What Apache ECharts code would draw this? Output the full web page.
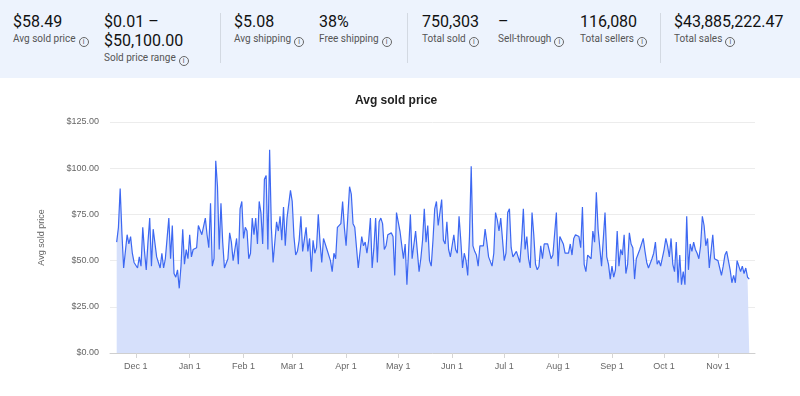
<!DOCTYPE html>
<html>
<head>
<meta charset="utf-8">
<script src="https://cdn.jsdelivr.net/npm/echarts@6/dist/echarts.min.js"></script>
<style>
  html, body { margin: 0; padding: 0; background: #fff; }
  #main { position: absolute; left: 0; top: 0; width: 800px; height: 396px; }
  #hdr { position: absolute; left: 0; top: 0; width: 800px; height: 78px; background: #edf3fd; z-index: 2;
         font-family: Roboto, "Liberation Sans", sans-serif; }
  .stat { position: absolute; top: 12px; white-space: nowrap; }
  .val { font-size: 16px; line-height: 19px; color: #111; }
  .lbl { font-size: 10px; line-height: 14px; color: #555; margin-top: 1px; }
  .ic { display: inline-block; width: 8px; height: 8px; border: 1px solid #666; border-radius: 50%;
        font-size: 7px; line-height: 8px; text-align: center; color: #555; margin-left: 3px; vertical-align: -2px; }
  .sep { position: absolute; top: 13px; width: 1px; height: 50px; background: #d3d9e2; }
</style>
</head>
<body>
<div id="main"></div>
<div id="hdr"></div>
<script>
// header stats
var statX = [13, 104, 234, 319, 422, 498, 580, 674];
var statValues = [['$58.49'], ['$0.01 \u2013', '$50,100.00'], ['$5.08'], ['38%'], ['750,303'], ['\u2013'], ['116,080'], ['$43,885,222.47']];
var statLabels = ['Avg sold price', 'Sold price range', 'Avg shipping', 'Free shipping', 'Total sold', 'Sell-through', 'Total sellers', 'Total sales'];
var sepX = [220, 407, 660];

// chart data: daily avg sold price from Nov 20, 2022
var startDay = [2022, 10, 20];
var avgSoldPrice = [
  60, 68, 89, 65, 46, 55, 64, 59, 63, 54,
  49, 48, 46, 52, 47, 68, 55, 45, 60, 73,
  47, 67, 68, 52, 52, 46, 54, 46, 51, 62,
  73, 51, 69, 43, 41, 45, 35, 47, 67, 48,
  56, 51, 64, 52, 56, 57, 57, 69, 68, 64,
  64, 73, 64, 57, 81, 47, 51, 104, 90, 56,
  81, 60, 46, 46, 51, 65, 60, 50, 56, 62,
  48, 78, 82, 62, 68, 66, 51, 54, 73, 64,
  73, 59, 82, 76, 59, 94, 96, 56, 110, 68,
  49, 50, 71, 66, 74, 61, 79, 58, 73, 72,
  88, 82, 63, 53, 55, 61, 74, 55, 54, 68,
  55, 62, 44, 61, 54, 57, 75, 60, 49, 62,
  63, 56, 57, 50, 44, 54, 51, 68, 69, 70,
  82, 68, 58, 57, 90, 86, 70, 68, 69, 46,
  46, 63, 58, 60, 54, 61, 73, 46, 57, 73,
  49, 71, 73, 70, 56, 58, 64, 63, 65, 63,
  42, 76, 76, 66, 67, 51, 59, 37, 56, 75,
  51, 51, 66, 55, 44, 51, 61, 78, 60, 69,
  50, 47, 61, 78, 82, 69, 68, 83, 61, 59,
  71, 56, 52, 52, 64, 56, 54, 74, 61, 46,
  54, 50, 42, 63, 101, 58, 55, 53, 47, 58,
  57, 58, 67, 60, 52, 51, 47, 54, 76, 72,
  66, 73, 72, 50, 54, 76, 78, 57, 52, 53,
  55, 54, 49, 61, 78, 56, 63, 51, 46, 76,
  64, 48, 45, 47, 58, 51, 59, 58, 59, 58,
  51, 53, 54, 76, 47, 63, 64, 59, 54, 54,
  54, 59, 53, 62, 64, 63, 63, 57, 79, 48,
  44, 53, 54, 51, 66, 60, 87, 67, 67, 47,
  46, 76, 52, 48, 40, 47, 41, 45, 66, 47,
  56, 53, 64, 43, 48, 65, 59, 57, 40, 51,
  50, 56, 56, 62, 55, 49, 46, 45, 51, 54,
  60, 48, 50, 47, 46, 56, 62, 58, 52, 62,
  48, 44, 60, 38, 53, 37, 44, 37, 74, 45,
  59, 55, 60, 56, 54, 51, 58, 74, 69, 58,
  62, 46, 46, 64, 51, 52, 50, 46, 42, 47,
  53, 55, 54, 45, 38, 42, 38, 50, 47, 44,
  47, 43, 46, 41, 40
];
var MONTHS = ['Jan', 'Feb', 'Mar', 'Apr', 'May', 'Jun', 'Jul', 'Aug', 'Sep', 'Oct', 'Nov', 'Dec'];
var DAY = 86400000;

// build header
var hdr = document.getElementById('hdr');
var html = '';
for (var i = 0; i < statX.length; i++) {
    html += '<div class="stat" style="left:' + statX[i] + 'px">';
    for (var j = 0; j < statValues[i].length; j++)
        html += '<div class="val">' + statValues[i][j] + '</div>';
    html += '<div class="lbl">' + statLabels[i] + '<span class="ic">i</span></div></div>';
}
for (var k = 0; k < sepX.length; k++)
    html += '<div class="sep" style="left:' + sepX[k] + 'px"></div>';
hdr.innerHTML = html;

// series points
var points = [];
for (var d = 0; d < avgSoldPrice.length; d++) {
    var t = new Date(startDay[0], startDay[1], startDay[2] + d).getTime();
    points.push([t, avgSoldPrice[d]]);
}
var firstT = points[0][0], lastT = points[points.length - 1][0];

var chart = echarts.init(document.getElementById('main'));
chart.setOption({
    animation: false,
    textStyle: { fontFamily: '"Liberation Sans", Arial, sans-serif' },
    graphic: [{
        type: 'text',
        left: 355, top: 95,
        style: { text: 'Avg sold price', font: 'bold 12px "Liberation Sans", Arial, sans-serif', fill: '#222' }
    }],
    grid: { left: 110, right: 45, top: 122, bottom: 43 },
    xAxis: {
        type: 'time',
        min: firstT - 3.85 * DAY,
        max: lastT + 3.3 * DAY,
        minInterval: 28 * DAY,
        maxInterval: 31 * DAY,
        splitLine: { show: false },
        axisLine: { lineStyle: { color: '#cfcfcf' } },
        axisTick: { show: true, length: 5, lineStyle: { color: '#d5d5d5' } },
        axisLabel: {
            color: '#666', fontSize: 9, margin: 9,
            showMinLabel: false, showMaxLabel: false,
            formatter: function (v) {
                var dt = new Date(v);
                return MONTHS[dt.getMonth()] + ' ' + dt.getDate();
            }
        }
    },
    yAxis: {
        type: 'value',
        min: 0, max: 125, interval: 25,
        name: 'Avg sold price',
        nameLocation: 'middle',
        nameGap: 64,
        nameTextStyle: { color: '#666', fontSize: 9 },
        axisLine: { show: false },
        axisTick: { show: false },
        axisLabel: {
            color: '#666', fontSize: 9, margin: 11,
            formatter: function (v) { return '$' + v.toFixed(2); }
        },
        splitLine: { lineStyle: { color: '#ececec' } }
    },
    series: [{
        type: 'line',
        data: points,
        showSymbol: false,
        symbol: 'none',
        lineStyle: { color: '#3d68f2', width: 1.2 },
        areaStyle: { color: '#d6e0fb', opacity: 1 }
    }]
});
</script>
</body>
</html>
